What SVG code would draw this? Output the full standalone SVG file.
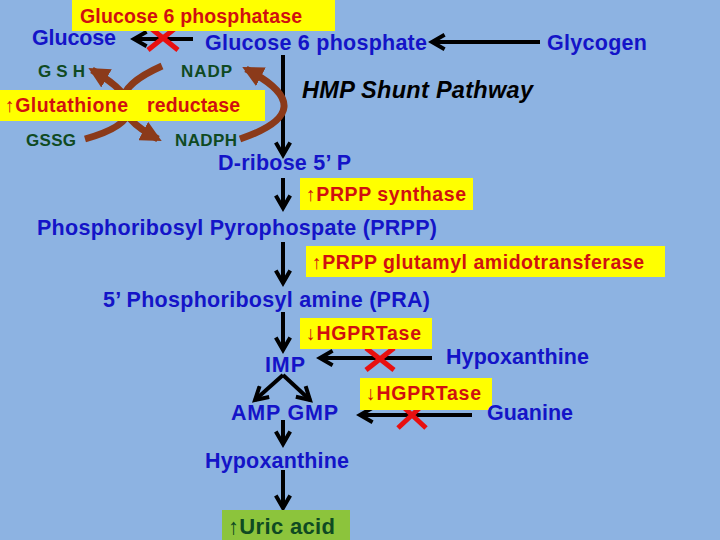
<svg xmlns="http://www.w3.org/2000/svg" width="720" height="540" viewBox="0 0 720 540">
<style>
text{font-family:"Liberation Sans",Arial,sans-serif;font-weight:bold}
.b{fill:#1414C8;font-size:21.5px}
.r{fill:#D01010;font-size:19.5px}
.g{fill:#0F4A22;font-size:17px}
.y{fill:#FFFF00}
.ar{stroke:#000;stroke-width:4;fill:none;marker-end:url(#h)}
.cu{stroke:#8B3A1A;stroke-width:7;fill:none;marker-end:url(#bh)}
.x{stroke:#E81010;stroke-width:5}
</style>
<defs>
<marker id="h" viewBox="0 0 10 10" refX="8" refY="5" markerWidth="4.5" markerHeight="4.5" orient="auto"><path d="M1,1 L8,5 L1,9" fill="none" stroke="#000" stroke-width="2.2"/></marker>
<marker id="bh" viewBox="0 0 10 10" refX="8" refY="5" markerWidth="3" markerHeight="3" orient="auto"><path d="M0,0 L10,5 L0,10 z" fill="#8B3A1A"/></marker>
</defs>
<rect width="720" height="540" fill="#8DB3E2"/>
<g id="connectors">
<path class="ar" d="M193,39 H134"/>
<path class="ar" d="M540,42 H432"/>
<path class="ar" d="M283,55 V155"/>
<path class="cu" d="M85,139 Q170,115 92,70"/>
<path class="cu" d="M162,66 Q85,100 158,139"/>
<path class="cu" d="M240,139 Q325,110 246,69"/>
<path class="ar" d="M283,178 V208"/>
<path class="ar" d="M283,242 V283"/>
<path class="ar" d="M283,312 V350"/>
<path class="ar" d="M432,358 H320"/>
<path class="ar" d="M283,375 L255,400"/>
<path class="ar" d="M283,375 L310,400"/>
<path class="ar" d="M472,415 H360"/>
<path class="ar" d="M283,420 V444"/>
<path class="ar" d="M283,470 V508"/>
<path class="x" d="M148,26 L178,50 M178,26 L148,50"/>
<path class="x" d="M366,348 L394,370 M394,348 L366,370"/>
<path class="x" d="M398,402 L426,428 M426,402 L398,428"/>
</g>
<g id="g6pase"><rect class="y" x="72" y="0" width="263" height="31"/><text class="r" x="80" y="23" textLength="222">Glucose 6 phosphatase</text></g>
<g id="glucose"><text class="b" x="32" y="45" textLength="84">Glucose</text></g>
<g id="g6p"><text class="b" x="205" y="50" textLength="222">Glucose 6 phosphate</text></g>
<g id="glycogen"><text class="b" x="547" y="50" textLength="100">Glycogen</text></g>
<g id="hmp"><text x="302" y="98" font-size="23.5" font-style="italic" fill="#000" textLength="231">HMP Shunt Pathway</text></g>
<g id="gsh"><text class="g" x="38" y="77" textLength="47">GSH</text></g>
<g id="nadp"><text class="g" x="181" y="77" textLength="51">NADP</text></g>
<g id="gssg"><text class="g" x="26" y="146" textLength="50">GSSG</text></g>
<g id="nadph"><text class="g" x="175" y="146" textLength="62">NADPH</text></g>
<g id="gr"><rect class="y" x="0" y="90" width="265" height="31"/><text class="r" x="5" y="112" textLength="123">↑Glutathione</text><text class="r" x="147" y="112" textLength="93">reductase</text></g>
<g id="ribose"><text class="b" x="218" y="170" textLength="133">D-ribose 5’ P</text></g>
<g id="prpps"><rect class="y" x="300" y="178" width="173" height="32"/><text class="r" x="306" y="201" textLength="160">↑PRPP synthase</text></g>
<g id="prpp"><text class="b" x="37" y="235" textLength="400">Phosphoribosyl Pyrophospate (PRPP)</text></g>
<g id="pgat"><rect class="y" x="306" y="246" width="359" height="31"/><text class="r" x="312" y="269" textLength="332">↑PRPP glutamyl  amidotransferase</text></g>
<g id="pra"><text class="b" x="103" y="307" textLength="327">5’ Phosphoribosyl amine (PRA)</text></g>
<g id="hgprt1"><rect class="y" x="300" y="318" width="132" height="31"/><text class="r" x="306" y="340" textLength="115">↓HGPRTase</text></g>
<g id="imp"><text class="b" x="265" y="372" textLength="40">IMP</text></g>
<g id="hypo1"><text class="b" x="446" y="364" textLength="143">Hypoxanthine</text></g>
<g id="ampgmp"><text class="b" x="231" y="420" textLength="107">AMP GMP</text></g>
<g id="hgprt2"><rect class="y" x="360" y="378" width="132" height="32"/><text class="r" x="366" y="400" textLength="115">↓HGPRTase</text></g>
<g id="guanine"><text class="b" x="487" y="420" textLength="86">Guanine</text></g>
<g id="hypo2"><text class="b" x="205" y="468" textLength="144">Hypoxanthine</text></g>
<g id="uric"><rect x="222" y="510" width="128" height="30" fill="#8CC43C"/><text x="228" y="534" font-size="22" fill="#0F4A22" textLength="107">↑Uric acid</text></g>
</svg>
